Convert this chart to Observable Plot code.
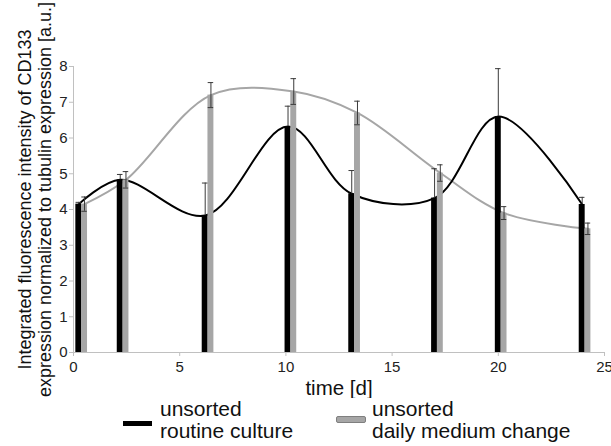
<!DOCTYPE html>
<html>
<head>
<meta charset="utf-8">
<script src="https://cdn.jsdelivr.net/npm/d3@7"></script>
<script src="https://cdn.jsdelivr.net/npm/@observablehq/plot@0.6"></script>
<style>
  html, body { margin: 0; padding: 0; background: #fff; }
  body { width: 611px; height: 446px; overflow: hidden; font-family: "Liberation Sans", Arial, sans-serif; }
  #legend { position: relative; width: 611px; height: 48px; color: #111; }
  #legend .sw { position: absolute; }
  #legend .lab { position: absolute; font-size: 21px; line-height: 22px; white-space: nowrap; }
</style>
</head>
<body>
<div id="chart"></div>
<div id="legend">
  <div class="sw" style="left:123px;top:23px;width:29px;height:5px;background:#000;"></div>
  <div class="lab" style="left:160px;top:0px;">unsorted<br>routine culture</div>
  <div class="sw" style="left:336px;top:18px;width:28px;height:5px;background:#a6a6a6;border:1px solid #7f7f7f;border-radius:2px;"></div>
  <div class="lab" style="left:372px;top:0px;">unsorted<br>daily medium change</div>
</div>
<script>
// Sampling days (bar positions) for each condition
const timeRoutine = [0.25, 2.2, 6.2, 10.1, 13.1, 17.0, 20.0, 23.95];
const timeDaily   = [0.52, 2.47, 6.47, 10.37, 13.37, 17.27, 20.27, 24.22];

// Mean CD133 intensity and error (a.u.)
const meanRoutine = [4.15, 4.83, 3.83, 6.32, 4.44, 4.32, 6.60, 4.14];
const errRoutine  = [0.05, 0.15, 0.91, 0.57, 0.65, 0.82, 1.34, 0.20];
const meanDaily   = [4.15, 4.83, 7.20, 7.30, 6.70, 5.02, 3.90, 3.46];
const errDaily    = [0.20, 0.23, 0.35, 0.36, 0.33, 0.23, 0.18, 0.16];

const xTicks = [0, 5, 10, 15, 20, 25];
const yTicks = [0, 1, 2, 3, 4, 5, 6, 7, 8];

const yTitle = "Integrated fluorescence intensity of CD133\nexpression normalized to tubulin expression [a.u.]";
const xTitle = "time [d]";

const routine = timeRoutine.map((t, i) => ({t, v: meanRoutine[i], e: errRoutine[i]}));
const daily = timeDaily.map((t, i) => ({t, v: meanDaily[i], e: errDaily[i]}));

const halfBar = 0.14;  // half bar width in days
const halfCap = 0.13;  // half error-cap width in days

const BLACK = "#000";
const GRAY = "#a6a6a6";
const ERR = "#3a3a3a";
const AXIS = "#c0c0c0";

// error bars: whiskers above the mean (and below it for the gray series)
function errorMarks(data, lower) {
  const marks = [
    Plot.ruleX(data, {x: "t", y1: d => lower ? d.v - d.e : d.v, y2: d => d.v + d.e, stroke: ERR, strokeWidth: 1}),
    Plot.ruleY(data, {y: d => d.v + d.e, x1: d => d.t - halfCap, x2: d => d.t + halfCap, stroke: ERR, strokeWidth: 1})
  ];
  if (lower) {
    marks.push(Plot.ruleY(data, {y: d => d.v - d.e, x1: d => d.t - halfCap, x2: d => d.t + halfCap, stroke: ERR, strokeWidth: 1}));
  }
  return marks;
}

const chart = Plot.plot({
  width: 611,
  height: 398,
  marginLeft: 73,
  marginRight: 7,
  marginTop: 66,
  marginBottom: 46,
  style: {fontFamily: "Liberation Sans, Arial, sans-serif", background: "#fff"},
  x: {domain: [0, 25]},
  y: {domain: [0, 8]},
  marks: [
    // smoothed trend lines behind the bars
    Plot.line(daily, {x: "t", y: "v", curve: "catmull-rom", stroke: GRAY, strokeWidth: 2}),
    Plot.line(routine, {x: "t", y: "v", curve: "catmull-rom", stroke: BLACK, strokeWidth: 2}),
    // bars
    Plot.rectY(routine, {x1: d => d.t - halfBar, x2: d => d.t + halfBar, y1: 0, y2: "v", fill: BLACK}),
    Plot.rectY(daily, {x1: d => d.t - halfBar, x2: d => d.t + halfBar, y1: 0, y2: "v", fill: GRAY}),
    ...errorMarks(routine, false),
    ...errorMarks(daily, true),
    // axes
    Plot.ruleX([0], {stroke: AXIS}),
    Plot.ruleY([0], {stroke: AXIS}),
    Plot.axisX({ticks: xTicks, tickSize: 4, tickPadding: 5, stroke: AXIS, fill: "#222", fontSize: 15, label: null}),
    Plot.axisY({ticks: yTicks, tickSize: 4, tickPadding: 2, stroke: AXIS, fill: "#222", fontSize: 15, label: null}),
    // axis titles
    Plot.text([xTitle], {frameAnchor: "bottom", dy: 36, lineAnchor: "middle", textAnchor: "middle", fontSize: 20.5, fill: "#111", text: d => d}),
    Plot.text([yTitle], {frameAnchor: "left", dx: -39, dy: -10, rotate: -90, textAnchor: "middle", lineAnchor: "middle", lineHeight: 1.15, fontSize: 18, fill: "#111", text: d => d})
  ]
});
document.getElementById("chart").appendChild(chart);
</script>
</body>
</html>
